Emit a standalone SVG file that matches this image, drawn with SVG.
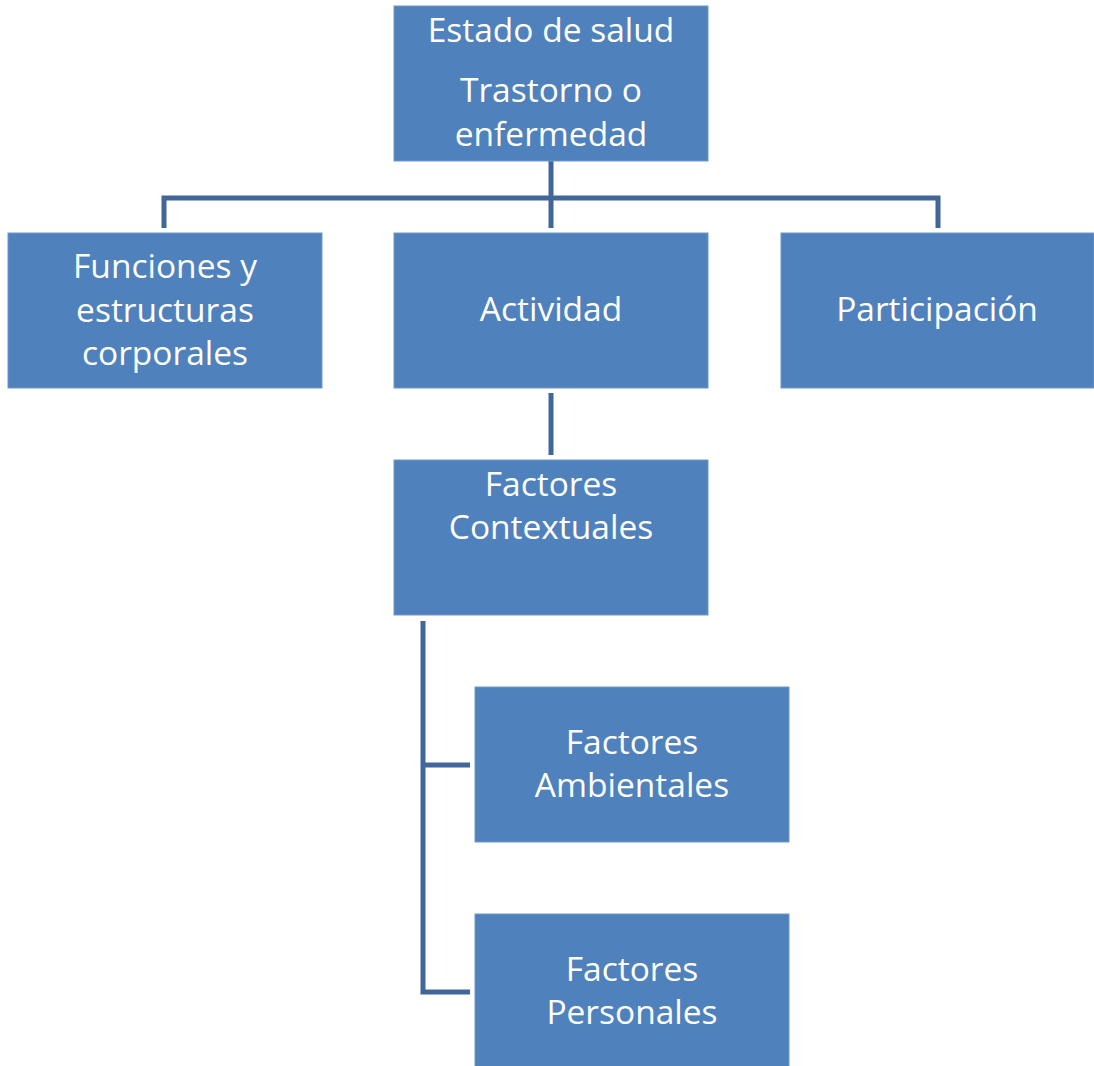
<svg xmlns="http://www.w3.org/2000/svg" width="1094" height="1066" viewBox="0 0 1094 1066">
<style>
.box{fill:#4F81BD;stroke:#6E97C9;stroke-width:1}
.lbl{font-family:"Open Sans","Liberation Sans",sans-serif;font-size:33.5px;fill:#FFFFFF;text-anchor:middle}
.conn{fill:none;stroke:#41679A;stroke-width:5}
</style>
<rect width="1094" height="1066" fill="#FFFFFF"/>
<g id="connectors">
<path class="conn" d="M551 161V228"/>
<path class="conn" d="M164 228V198H938V228"/>
<path class="conn" d="M551 393V455"/>
<path class="conn" d="M423 621V992H470"/>
<path class="conn" d="M423 765H470"/>
</g>
<g id="estado">
<rect class="box" x="394" y="6" width="314" height="155"/>
<text class="lbl" x="551" y="42">Estado de salud</text>
<text class="lbl" x="551" y="102">Trastorno o</text>
<text class="lbl" x="551" y="146">enfermedad</text>
</g>
<g id="funciones">
<rect class="box" x="8" y="233" width="314" height="155"/>
<text class="lbl" x="165" y="278">Funciones y</text>
<text class="lbl" x="165" y="322">estructuras</text>
<text class="lbl" x="165" y="365">corporales</text>
</g>
<g id="actividad">
<rect class="box" x="394" y="233" width="314" height="155"/>
<text class="lbl" x="551" y="321">Actividad</text>
</g>
<g id="participacion">
<rect class="box" x="781" y="233" width="313" height="155"/>
<text class="lbl" x="937" y="321">Participación</text>
</g>
<g id="contextuales">
<rect class="box" x="394" y="460" width="314" height="155"/>
<text class="lbl" x="551" y="496">Factores</text>
<text class="lbl" x="551" y="539">Contextuales</text>
</g>
<g id="ambientales">
<rect class="box" x="475" y="687" width="314" height="155"/>
<text class="lbl" x="632" y="754">Factores</text>
<text class="lbl" x="632" y="797">Ambientales</text>
</g>
<g id="personales">
<rect class="box" x="475" y="914" width="314" height="155"/>
<text class="lbl" x="632" y="981">Factores</text>
<text class="lbl" x="632" y="1024">Personales</text>
</g>
</svg>
